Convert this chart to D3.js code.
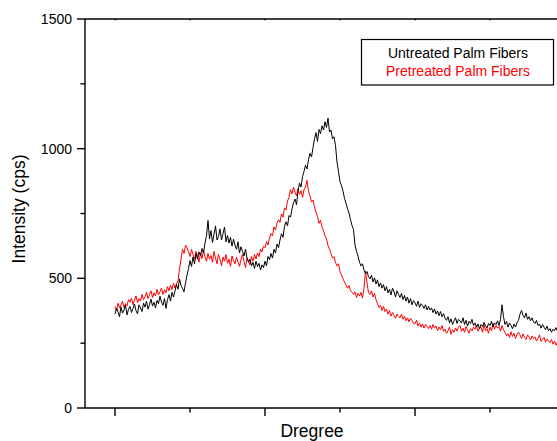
<!DOCTYPE html>
<html>
  <head>
    <meta charset="utf-8">
    <script src="https://d3js.org/d3.v7.min.js"></script>
    <title>XRD Palm Fibers</title>
    <style>
      body {
        margin: 0px;
        background: #fff;
      }
      svg text {
        font-family: "Liberation Sans", Arial, sans-serif;
        fill: #000;
      }
      .tick-label {
        font-size: 14px;
      }
      .axis-label {
        font-size: 17.5px;
      }
      .legend text {
        font-size: 14px;
      }
    </style>
  </head>
  <body>
    <svg width="557" height="441"></svg>
    <script>
      // scan grid: 10 to 39.6 degrees, every 0.1
      const degrees = d3.range(297).map(i => 10 + i * 0.1);

      const untreated = [
        362, 385, 371, 352, 390, 366, 378, 396, 359, 381,
        392, 368, 384, 401, 375, 363, 398, 386, 372, 404,
        389, 412, 381, 398, 420, 393, 408, 386, 415, 402,
        431, 408, 396, 422, 384, 418, 437, 412, 446, 428,
        452, 476, 458, 498, 472, 462, 448, 482, 512, 538,
        568, 546, 582, 556, 596, 574, 602, 588, 615, 598,
        636, 664, 723, 652, 684, 638, 671, 702, 648, 662,
        690, 648, 672, 698, 641, 665, 636, 658, 624, 651,
        628, 612, 641, 598, 622, 604, 586, 612, 578, 562,
        574, 548, 562, 538, 566, 545, 558, 532, 552, 541,
        566, 548, 584, 572, 596, 578, 612, 598, 632, 618,
        648, 672, 658, 701, 718, 702, 742, 736, 768, 792,
        806, 784, 836, 868, 852, 892, 912, 936, 922, 958,
        982, 968, 1004, 1038, 1062, 1028, 1074, 1058, 1088, 1072,
        1104, 1082, 1118, 1064, 1072, 1038, 1046, 1012, 948, 912,
        872, 858, 836, 808, 790, 768, 752, 726, 704, 688,
        628, 604, 586, 562, 548, 556, 532, 518, 526, 506,
        498, 512, 486, 502, 478, 494, 468, 482, 462, 476,
        452, 468, 444, 458, 436, 462, 448, 428, 452, 438,
        426, 442, 418, 434, 412, 428, 404, 422, 398, 414,
        406, 392, 412, 388, 402, 396, 384, 398, 378, 392,
        378, 386, 368, 382, 362, 374, 356, 372, 352, 364,
        346, 338, 352, 328, 344, 322, 336, 348, 326, 342,
        336, 328, 348, 322, 338, 316, 334, 326, 342, 318,
        328, 312, 324, 306, 322, 314, 330, 318, 308, 326,
        318, 334, 312, 328, 322, 336, 318, 342, 398, 352,
        322, 334, 312, 328, 318, 306, 324, 312, 328, 338,
        362, 376, 358, 348, 366, 342, 352, 336, 348, 332,
        326, 338, 318, 324, 308, 322, 312, 302, 316, 298,
        306, 292, 304, 298, 310, 296, 302
      ];

      const pretreated = [
        392, 374, 404, 386, 398, 412, 388, 402, 394, 418,
        408, 424, 398, 416, 432, 406, 422, 412, 438, 418,
        428, 446, 422, 438, 452, 426, 444, 432, 458, 436,
        448, 462, 438, 456, 444, 468, 452, 474, 456, 482,
        462, 478, 492, 536, 572, 612, 596, 628, 618, 602,
        584, 612, 592, 574, 604, 586, 562, 598, 576, 608,
        582, 566, 596, 574, 588, 562, 604, 578, 556, 592,
        574, 548, 582, 566, 592, 558, 574, 546, 586, 568,
        556, 582, 562, 546, 574, 592, 566, 542, 578, 568,
        552, 584, 566, 592, 574, 598, 584, 612, 602, 624,
        618, 642, 628, 656, 672, 664, 698, 686, 712, 726,
        716, 748, 736, 772, 764, 798, 812, 842, 826, 852,
        832, 818, 846, 824, 838, 812, 842, 852, 878, 836,
        818, 794, 802, 776, 754, 738, 712, 724, 698, 684,
        664, 652, 626, 612, 596, 578, 584, 562, 548, 556,
        526, 512, 498, 486, 474, 462, 472, 452, 446, 438,
        448, 426, 442, 432, 446, 424, 462, 528, 482, 446,
        438, 452, 428, 442, 418, 402, 388, 396, 376, 392,
        372, 382, 362, 376, 354, 368, 358, 346, 362, 352,
        348, 362, 342, 354, 336, 348, 332, 346, 338, 326,
        324, 338, 316, 328, 312, 324, 308, 322, 314, 306,
        318, 304, 322, 308, 316, 298, 312, 302, 318, 296,
        304, 288, 298, 312, 284, 302, 292, 308, 296, 312,
        318, 296, 308, 292, 314, 302, 288, 306, 298, 312,
        304, 318, 296, 308, 312, 292, 322, 298, 306, 288,
        312, 298, 326, 304, 318, 308, 314, 296, 318, 302,
        292, 278, 286, 272, 294, 276, 288, 268, 284, 292,
        282, 268, 286, 272, 264, 282, 274, 262, 278, 268,
        274, 258, 268, 282, 256, 264, 272, 254, 266, 258,
        252, 264, 246, 258, 242, 254, 238
      ];

      const seriesNames = ['Untreated Palm Fibers', 'Pretreated Palm Fibers'];
      const seriesColors = ['#000000', '#ff0000'];
      const yTicksMajor = [0, 500, 1000, 1500];
      const yTicksMinor = [250, 750, 1250];
      const xTicksMajor = [10, 20, 30, 40];
      const xTicksMinor = [15, 25, 35];

      const svg = d3.select('svg');
      const plotLeft = 85, plotTop = 19, plotBottom = 408, plotRight = 595;

      const xScale = d3.scaleLinear().domain([8, 42]).range([plotLeft, plotRight]);
      const yScale = d3.scaleLinear().domain([0, 1500]).range([plotBottom, plotTop]);

      const line = d3.line()
        .x((d, i) => xScale(degrees[i]))
        .y(d => yScale(d));

      // red drawn first, black over it
      const lines = [untreated, pretreated];
      [1, 0].forEach(k => {
        svg.append('path')
          .datum(lines[k])
          .attr('fill', 'none')
          .attr('stroke', seriesColors[k])
          .attr('stroke-width', 1)
          .attr('d', line);
      });

      // axes
      const axisG = svg.append('g')
        .attr('stroke', '#000')
        .attr('stroke-width', 1.4)
        .attr('fill', 'none');

      axisG.append('line')
        .attr('x1', plotLeft).attr('x2', plotLeft)
        .attr('y1', plotTop).attr('y2', plotBottom);
      axisG.append('line')
        .attr('x1', plotLeft).attr('x2', plotRight)
        .attr('y1', plotBottom).attr('y2', plotBottom);
      axisG.append('line')
        .attr('x1', plotLeft).attr('x2', plotRight)
        .attr('y1', plotTop).attr('y2', plotTop);

      yTicksMajor.forEach(v => {
        axisG.append('line')
          .attr('x1', plotLeft - 8).attr('x2', plotLeft)
          .attr('y1', yScale(v)).attr('y2', yScale(v));
      });
      yTicksMinor.forEach(v => {
        axisG.append('line')
          .attr('x1', plotLeft - 4.5).attr('x2', plotLeft)
          .attr('y1', yScale(v)).attr('y2', yScale(v));
      });
      xTicksMajor.forEach(v => {
        axisG.append('line')
          .attr('x1', xScale(v)).attr('x2', xScale(v))
          .attr('y1', plotBottom).attr('y2', plotBottom + 8);
        axisG.append('line')
          .attr('x1', xScale(v)).attr('x2', xScale(v))
          .attr('y1', plotTop).attr('y2', plotTop + 1.5)
          .attr('stroke-width', 1);
      });
      xTicksMinor.forEach(v => {
        axisG.append('line')
          .attr('x1', xScale(v)).attr('x2', xScale(v))
          .attr('y1', plotBottom).attr('y2', plotBottom + 4.5);
        axisG.append('line')
          .attr('x1', xScale(v)).attr('x2', xScale(v))
          .attr('y1', plotTop).attr('y2', plotTop + 1.5)
          .attr('stroke-width', 1);
      });

      svg.selectAll('.tick-label')
        .data(yTicksMajor)
        .enter().append('text')
          .attr('class', 'tick-label')
          .attr('x', plotLeft - 13)
          .attr('y', d => yScale(d))
          .attr('dy', '0.35em')
          .attr('text-anchor', 'end')
          .text(d => d);

      svg.append('text')
        .attr('class', 'axis-label')
        .attr('transform', `translate(25, 209) rotate(-90)`)
        .attr('text-anchor', 'middle')
        .text('Intensity (cps)');

      svg.append('text')
        .attr('class', 'axis-label')
        .attr('x', 312)
        .attr('y', 437)
        .attr('text-anchor', 'middle')
        .text('Dregree');

      // legend
      const legend = svg.append('g').attr('class', 'legend');
      legend.append('rect')
        .attr('x', 361.5).attr('y', 39.5)
        .attr('width', 192).attr('height', 45.5)
        .attr('fill', '#fff')
        .attr('stroke', '#000')
        .attr('stroke-width', 1.2);
      seriesNames.forEach((name, i) => {
        legend.append('text')
          .attr('x', 458)
          .attr('y', 57.5 + i * 18.5)
          .attr('text-anchor', 'middle')
          .style('fill', seriesColors[i])
          .text(name);
      });
    </script>
  </body>
</html>
